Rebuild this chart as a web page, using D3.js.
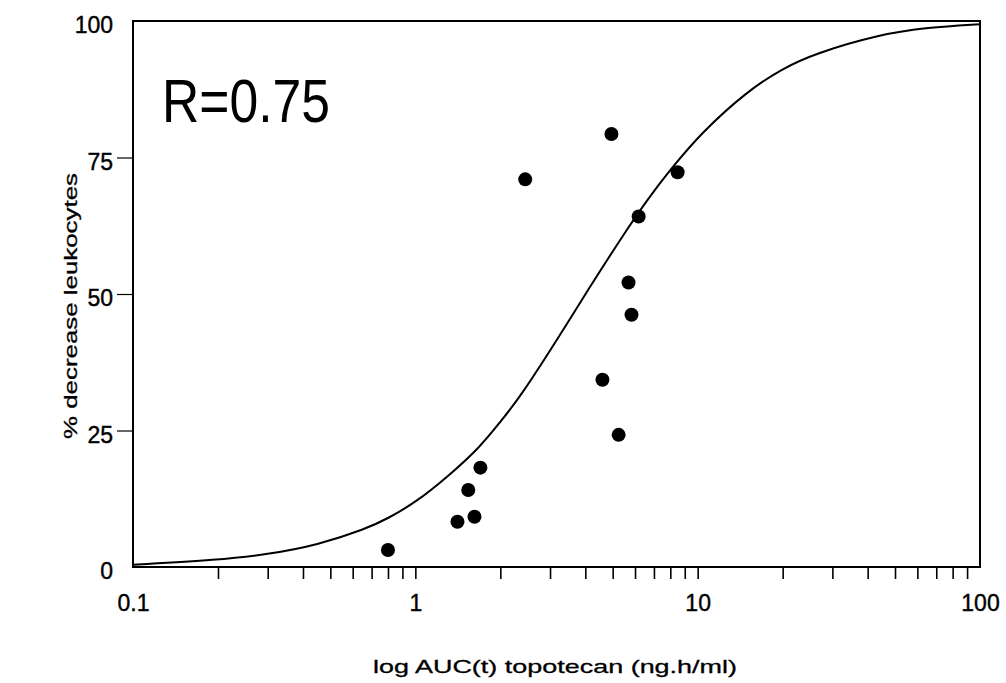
<!DOCTYPE html>
<html>
<head>
<meta charset="utf-8">
<script src="https://cdn.jsdelivr.net/npm/d3@7"></script>
<style>
  body { margin: 0; background: #fff; }
  svg { display: block; font-family: "Liberation Sans", Arial, sans-serif; }
</style>
</head>
<body>
<div id="chart"></div>
<script>
// measured points: AUC (ng.h/ml) and % decrease leukocytes
const aucValues = [0.80, 1.41, 1.62, 1.54, 1.70, 2.45, 4.95, 4.60, 5.25, 5.69, 5.83, 6.18, 8.49];
const decreaseValues = [3.1, 8.3, 9.2, 14.1, 18.2, 71.0, 79.3, 34.3, 24.2, 52.1, 46.2, 64.2, 72.3];

// fitted curve
const curveX = [0.1, 0.2, 0.3, 0.45, 0.67, 0.8, 1.0, 1.3, 1.7, 2.0, 2.36, 3.35, 4.0, 5.8, 7.0, 8.2, 10.2, 15, 20, 25.8, 44.6, 65, 100];
const curveY = [0.4, 1.3, 2.3, 4.0, 7.0, 8.9, 11.8, 16.5, 22.0, 26.6, 31.2, 43.5, 50.0, 63.0, 68.9, 73.4, 79.3, 87.2, 91.3, 94.0, 97.6, 98.8, 99.4];

const xTickLabels = [0.1, 1, 10, 100];
const yTickLabels = [0, 25, 50, 75, 100];

const width = 1006;
const height = 683;
const margin = { top: 21, right: 26, bottom: 116, left: 133 };

const svg = d3
  .select("#chart")
  .append("svg")
  .attr("width", width)
  .attr("height", height);

const xScale = d3
  .scaleLog()
  .domain([0.1, 100])
  .range([margin.left, width - margin.right]);

const yScale = d3
  .scaleLinear()
  .domain([0, 100])
  .range([height - margin.bottom, margin.top]);

const x0 = margin.left;
const x1 = width - margin.right;
const y0 = height - margin.bottom;
const y1 = margin.top;

// x axis, ticks pointing down
const xAxis = svg
  .append("g")
  .attr("transform", `translate(0,${y0})`)
  .call(
    d3
      .axisBottom(xScale)
      .tickValues(xScale.ticks())
      .tickSize(12)
      .tickPadding(16)
      .tickFormat((d) => (xTickLabels.includes(d) ? String(d) : ""))
  );
xAxis.select(".domain").remove();
xAxis
  .selectAll(".tick line")
  .attr("stroke-width", 1.6)
  .filter((d) => d === 0.1 || d === 100)
  .remove();
xAxis
  .selectAll(".tick text")
  .attr("fill", "#000")
  .attr("stroke", "#000")
  .attr("stroke-width", 0.4)
  .style("font-size", "23px");

// y axis
const yAxis = svg
  .append("g")
  .attr("transform", `translate(${x0},0)`)
  .call(d3.axisLeft(yScale).tickValues(yTickLabels).tickSize(16).tickPadding(4));
yAxis.select(".domain").remove();
yAxis
  .selectAll(".tick line")
  .attr("stroke-width", 1.2)
  .filter((d) => d === 0 || d === 100)
  .remove();
yAxis
  .selectAll(".tick text")
  .attr("fill", "#000")
  .attr("stroke", "#000")
  .attr("stroke-width", 0.4)
  .attr("dy", "0.5em")
  .style("font-size", "23px");

// frame
svg
  .append("rect")
  .attr("x", x0)
  .attr("y", y1)
  .attr("width", x1 - x0)
  .attr("height", y0 - y1)
  .attr("fill", "none")
  .attr("stroke", "#000")
  .attr("stroke-width", 2);

// fitted curve
const curvePoints = curveX.map((x, i) => ({ x: x, y: curveY[i] }));
svg
  .append("path")
  .datum(curvePoints)
  .attr("fill", "none")
  .attr("stroke", "#000")
  .attr("stroke-width", 2)
  .attr(
    "d",
    d3
      .line()
      .x((d) => xScale(d.x))
      .y((d) => yScale(d.y))
      .curve(d3.curveBasis)
  );

// dots
const points = aucValues.map((a, i) => ({ auc: a, dec: decreaseValues[i] }));
svg
  .selectAll(".dot")
  .data(points)
  .enter()
  .append("circle")
  .attr("class", "dot")
  .attr("cx", (d) => xScale(d.auc))
  .attr("cy", (d) => yScale(d.dec))
  .attr("r", 7)
  .attr("fill", "#000");

// R value
svg
  .append("text")
  .attr("x", 162)
  .attr("y", 122)
  .attr("textLength", 168)
  .attr("lengthAdjust", "spacingAndGlyphs")
  .style("font-size", "61px")
  .text("R=0.75");

// axis titles
svg
  .append("text")
  .attr("x", 373)
  .attr("y", 673)
  .attr("textLength", 364)
  .attr("lengthAdjust", "spacingAndGlyphs")
  .attr("stroke", "#000")
  .attr("stroke-width", 0.3)
  .style("font-size", "19px")
  .text("log AUC(t) topotecan (ng.h/ml)");

svg
  .append("text")
  .attr("transform", "translate(77,306) rotate(-90)")
  .attr("text-anchor", "middle")
  .attr("textLength", 266)
  .attr("lengthAdjust", "spacingAndGlyphs")
  .attr("stroke", "#000")
  .attr("stroke-width", 0.3)
  .style("font-size", "19px")
  .text("% decrease leukocytes");
</script>
</body>
</html>
